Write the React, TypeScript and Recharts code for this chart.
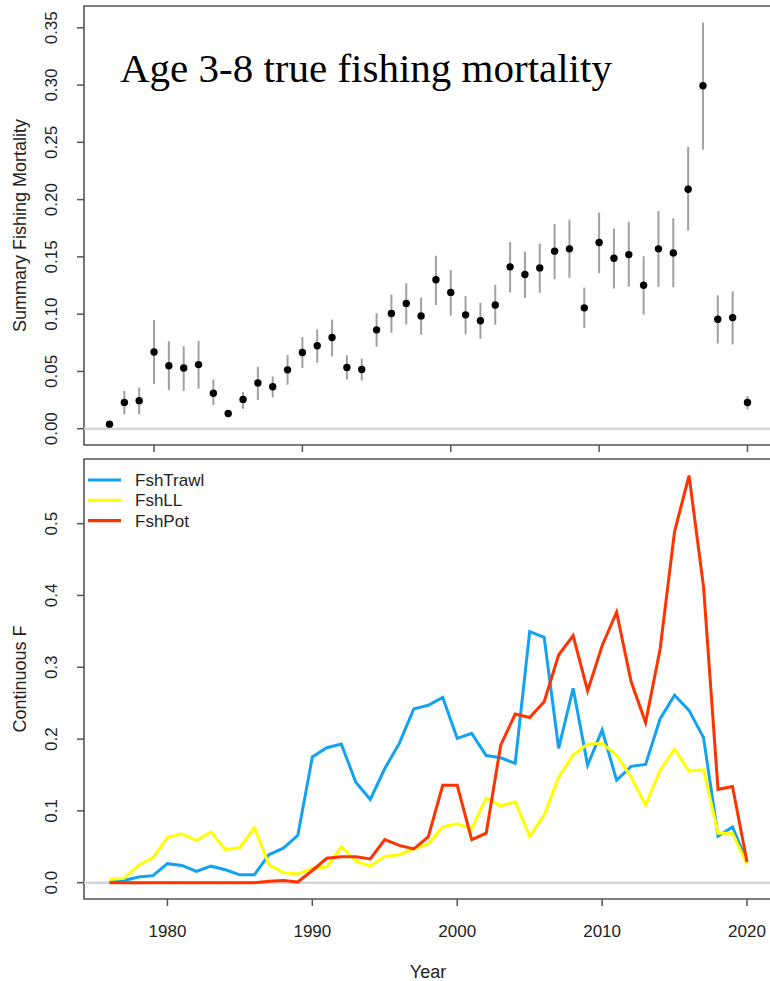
import React from 'react';
import {
  ComposedChart,
  LineChart,
  Line,
  Scatter,
  ErrorBar,
  XAxis,
  YAxis,
  ReferenceLine,
  ReferenceArea,
  Customized,
} from 'recharts';

// ---------- Top panel: Age 3-8 true fishing mortality ----------
const topYears = [
  1977, 1978, 1979, 1980, 1981, 1982, 1983, 1984, 1985, 1986, 1987, 1988, 1989, 1990, 1991,
  1992, 1993, 1994, 1995, 1996, 1997, 1998, 1999, 2000, 2001, 2002, 2003, 2004, 2005, 2006,
  2007, 2008, 2009, 2010, 2011, 2012, 2013, 2014, 2015, 2016, 2017, 2018, 2019, 2020,
];
const summaryF = [
  0.004, 0.023, 0.0245, 0.067, 0.055, 0.053, 0.056, 0.031, 0.0133, 0.0256, 0.04, 0.0366,
  0.0514, 0.0665, 0.0724, 0.0796, 0.0535, 0.0517, 0.0863, 0.1006, 0.1093, 0.0985, 0.13,
  0.119, 0.0994, 0.0942, 0.108, 0.1413, 0.1346, 0.1404, 0.155, 0.157, 0.1055, 0.1625,
  0.1488, 0.152, 0.1253, 0.157, 0.1535, 0.209, 0.2994, 0.0956, 0.097, 0.0229,
];
const summaryLo = [
  0.003, 0.0125, 0.0125, 0.039, 0.0337, 0.033, 0.035, 0.0206, 0.011, 0.0174, 0.025, 0.0273,
  0.0384, 0.053, 0.0576, 0.0633, 0.043, 0.0421, 0.0715, 0.0837, 0.091, 0.082, 0.108,
  0.0988, 0.0825, 0.0785, 0.0907, 0.119, 0.1142, 0.1186, 0.1305, 0.1317, 0.088, 0.1357,
  0.1224, 0.124, 0.0997, 0.1238, 0.1235, 0.173, 0.2436, 0.0744, 0.0735, 0.0168,
];
const summaryHi = [
  0.005, 0.033, 0.036, 0.095, 0.0764, 0.072, 0.0767, 0.043, 0.016, 0.032, 0.054, 0.0456,
  0.0645, 0.08, 0.0866, 0.0953, 0.064, 0.0613, 0.1008, 0.117, 0.127, 0.1145, 0.151,
  0.1386, 0.1157, 0.11, 0.1256, 0.1628, 0.1546, 0.1616, 0.1788, 0.1825, 0.1232, 0.1886,
  0.1747, 0.1805, 0.1505, 0.19, 0.1837, 0.246, 0.3546, 0.1165, 0.12, 0.0284,
];
const topYTicks = [0, 0.05, 0.1, 0.15, 0.2, 0.25, 0.3, 0.35];
const topXDomain = [1975.28, 2021.72];
const topYDomain = [-0.0142, 0.369];

// ---------- Bottom panel: Continuous F by fleet ----------
const fleetYears = [
  1976, 1977, 1978, 1979, 1980, 1981, 1982, 1983, 1984, 1985, 1986, 1987, 1988, 1989, 1990,
  1991, 1992, 1993, 1994, 1995, 1996, 1997, 1998, 1999, 2000, 2001, 2002, 2003, 2004, 2005,
  2006, 2007, 2008, 2009, 2010, 2011, 2012, 2013, 2014, 2015, 2016, 2017, 2018, 2019, 2020,
];
const fshTrawl = [
  0.001, 0.003, 0.008, 0.0098, 0.0265, 0.024, 0.0158, 0.023, 0.018, 0.011, 0.011, 0.039,
  0.048, 0.066, 0.175, 0.188, 0.193, 0.14, 0.116, 0.159, 0.194, 0.242, 0.247, 0.258, 0.201,
  0.208, 0.177, 0.174, 0.166, 0.3495, 0.3417, 0.187, 0.2706, 0.1636, 0.2125, 0.1427, 0.162,
  0.1646, 0.228, 0.261, 0.24, 0.202, 0.0646, 0.0776, 0.0288,
];
const fshLL = [
  0.0046, 0.006, 0.024, 0.035, 0.063, 0.068, 0.0586, 0.0707, 0.046, 0.049, 0.0767, 0.025,
  0.014, 0.012, 0.02, 0.022, 0.05, 0.03, 0.023, 0.0367, 0.039, 0.047, 0.054, 0.0776, 0.082,
  0.0753, 0.118, 0.107, 0.1125, 0.0646, 0.094, 0.147, 0.1776, 0.193, 0.1939, 0.1776, 0.147,
  0.108, 0.1567, 0.186, 0.1557, 0.157, 0.069, 0.069, 0.0256,
];
const fshPot = [
  0, 0, 0, 0, 0, 0, 0, 0, 0, 0, 0, 0.002, 0.003, 0.001, 0.017, 0.034, 0.036, 0.036, 0.033,
  0.06, 0.052, 0.047, 0.0637, 0.1357, 0.1357, 0.06, 0.069, 0.1915, 0.2348, 0.23, 0.252,
  0.317, 0.344, 0.267, 0.33, 0.3766, 0.28, 0.223, 0.325, 0.489, 0.567, 0.412, 0.13, 0.134,
  0.0288,
];
const bottomYTicks = [0, 0.1, 0.2, 0.3, 0.4, 0.5];
const yearTicks = [1980, 1990, 2000, 2010, 2020];
const bottomXDomain = [1974.24, 2021.76];
const bottomYDomain = [-0.0227, 0.59];

const seriesNames = ['FshTrawl', 'FshLL', 'FshPot'];
const seriesColors = ['#12A2F2', '#FFFF00', '#FF3300'];

const topData = topYears.map((year, i) => ({
  year,
  f: summaryF[i],
  err: [summaryF[i] - summaryLo[i], summaryHi[i] - summaryF[i]],
}));
const fleetValues = [fshTrawl, fshLL, fshPot];
const bottomData = fleetYears.map((year, i) => {
  const row: Record<string, number> = { year };
  seriesNames.forEach((n, k) => {
    row[n] = fleetValues[k][i];
  });
  return row;
});

const SANS = '"Liberation Sans", Arial, Helvetica, sans-serif';
const SERIF = '"Liberation Serif", "Times New Roman", serif';
const AXIS = '#555555';
const TEXT = '#222222';

const makeYTick = (digits: number) => (props: any) => {
  const { y, payload } = props;
  return (
    <text
      x={57}
      y={y}
      transform={`rotate(-90 57 ${y})`}
      textAnchor="middle"
      fontSize={17}
      fill={TEXT}
      fontFamily={SANS}
    >
      {Number(payload.value).toFixed(digits)}
    </text>
  );
};

const EmptyTick = () => <g />;

const BottomXTick = (props: any) => {
  const { x, payload } = props;
  return (
    <text x={x} y={482} textAnchor="middle" fontSize={17} fill={TEXT} fontFamily={SANS}>
      {payload.value}
    </text>
  );
};

const Dot = (props: any) => <circle cx={props.cx} cy={props.cy} r={3.7} fill="#000" />;

const TopDecor = () => (
  <g>
    <text x={120} y={82} fontSize={41} fontFamily={SERIF} fill="#000">
      Age 3-8 true fishing mortality
    </text>
    <text
      x={26}
      y={225.5}
      transform="rotate(-90 26 225.5)"
      textAnchor="middle"
      fontSize={18}
      fill={TEXT}
      fontFamily={SANS}
    >
      Summary Fishing Mortality
    </text>
  </g>
);

const BottomDecor = () => (
  <g>
    <text
      x={26}
      y={224}
      transform="rotate(-90 26 224)"
      textAnchor="middle"
      fontSize={18}
      fill={TEXT}
      fontFamily={SANS}
    >
      Continuous F
    </text>
    <text x={428} y={523} textAnchor="middle" fontSize={18} fill={TEXT} fontFamily={SANS}>
      Year
    </text>
    {seriesNames.map((n, i) => (
      <g key={n}>
        <line x1={88} x2={121} y1={25 + 20.3 * i} y2={25 + 20.3 * i} stroke={seriesColors[i]} strokeWidth={3.2} />
        <text x={135} y={31 + 20.3 * i} fontSize={17} fill={TEXT} fontFamily={SANS}>
          {n}
        </text>
      </g>
    ))}
  </g>
);

export default function App() {
  return (
    <div
      style={{
        position: 'absolute',
        left: 0,
        top: 0,
        width: 770,
        height: 981,
        overflow: 'hidden',
        background: '#fff',
      }}
    >
      <ComposedChart
        width={790}
        height={455}
        data={topData}
        margin={{ top: 6, right: 17, bottom: 0, left: 0 }}
      >
        <XAxis
          type="number"
          dataKey="year"
          domain={topXDomain}
          ticks={yearTicks}
          allowDataOverflow
          height={10}
          axisLine={false}
          tickSize={7}
          tickLine={{ stroke: AXIS, strokeWidth: 1.5 }}
          tick={EmptyTick}
        />
        <YAxis
          type="number"
          dataKey="f"
          domain={topYDomain}
          ticks={topYTicks}
          allowDataOverflow
          width={84}
          axisLine={false}
          tickSize={7}
          tickLine={{ stroke: AXIS, strokeWidth: 1.5 }}
          tick={makeYTick(2)}
        />
        <ReferenceLine y={0} stroke="#d6d6d6" strokeWidth={2.5} />
        <ReferenceArea
          x1={topXDomain[0]}
          x2={topXDomain[1]}
          y1={topYDomain[0]}
          y2={topYDomain[1]}
          ifOverflow="visible"
          fill="none"
          fillOpacity={0}
          stroke={AXIS}
          strokeWidth={1.6}
        />
        <Scatter dataKey="f" shape={Dot} isAnimationActive={false}>
          <ErrorBar dataKey="err" direction="y" width={0} stroke="#a0a0a0" strokeWidth={2} />
        </Scatter>
        <Customized component={TopDecor} />
      </ComposedChart>
      <LineChart
        width={790}
        height={526}
        data={bottomData}
        margin={{ top: 4, right: 17.5, bottom: 0, left: 0 }}
      >
        <XAxis
          type="number"
          dataKey="year"
          domain={bottomXDomain}
          ticks={yearTicks}
          allowDataOverflow
          height={82}
          axisLine={false}
          tickSize={7}
          tickLine={{ stroke: AXIS, strokeWidth: 1.5 }}
          tick={BottomXTick}
        />
        <YAxis
          type="number"
          domain={bottomYDomain}
          ticks={bottomYTicks}
          allowDataOverflow
          width={84}
          axisLine={false}
          tickSize={7}
          tickLine={{ stroke: AXIS, strokeWidth: 1.5 }}
          tick={makeYTick(1)}
        />
        <ReferenceLine y={0} stroke="#d6d6d6" strokeWidth={2.5} />
        <ReferenceArea
          x1={bottomXDomain[0]}
          x2={bottomXDomain[1]}
          y1={bottomYDomain[0]}
          y2={bottomYDomain[1]}
          ifOverflow="visible"
          fill="none"
          fillOpacity={0}
          stroke={AXIS}
          strokeWidth={1.6}
        />
        {seriesNames.map((n, i) => (
          <Line
            key={n}
            type="linear"
            dataKey={n}
            stroke={seriesColors[i]}
            strokeWidth={3}
            dot={false}
            isAnimationActive={false}
          />
        ))}
        <Customized component={BottomDecor} />
      </LineChart>
    </div>
  );
}
